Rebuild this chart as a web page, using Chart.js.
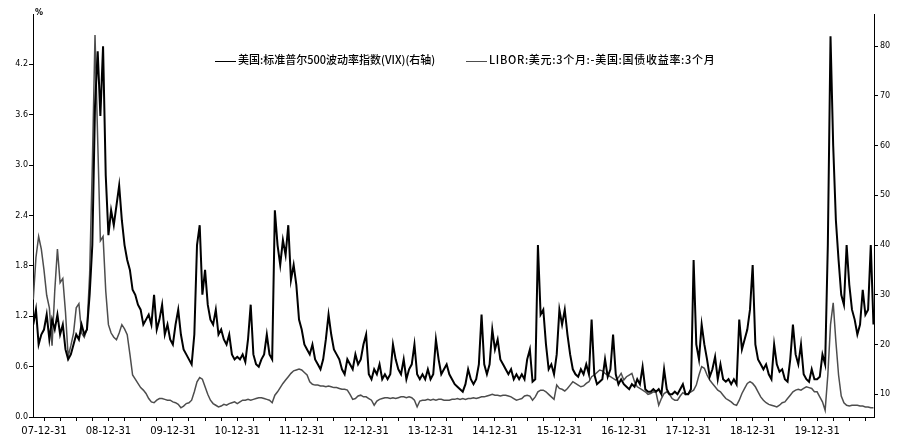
<!DOCTYPE html>
<html lang="zh-CN">
<head>
<meta charset="UTF-8" />
<title>VIX 与 LIBOR-国债利差</title>
<script src="https://cdn.jsdelivr.net/npm/chart.js"></script>
<style>
  body { margin: 0; background: #fff; }
  #wrap { position: relative; width: 900px; height: 445px; }
  .legend { position: absolute; top: 51px; font: 500 11px "Noto Sans CJK SC", sans-serif; color: #000; white-space: nowrap; line-height: 16px; }
  .legend i { display: inline-block; width: 21px; height: 0; border-top: 1.5px solid #000; vertical-align: middle; margin-right: 2px; }
  #pct { position: absolute; left: 35px; top: 8px; font: bold 8px "DejaVu Sans", sans-serif; color: #000; }
</style>
</head>
<body>
<div id="wrap">
  <canvas id="grafico" width="900" height="445"></canvas>
  <div id="pct">%</div>
  <div class="legend" style="left:215px"><i></i>美国:标准普尔500波动率指数(VIX)(右轴)</div>
  <div class="legend" style="left:466px; letter-spacing:0.7px"><i style="border-color:#4d4d4d"></i>LIBOR:美元:3个月:-美国:国债收益率:3个月</div>
</div>

<script>
  // eixo x: meses contados a partir de 2007-12-31, um ponto a cada meio mes
  const firstMonth = -2;   // 2007-10-31
  const stepMonth = 0.5;

  const xLabels = ['07-12-31', '08-12-31', '09-12-31', '10-12-31', '11-12-31', '12-12-31', '13-12-31',
                   '14-12-31', '15-12-31', '16-12-31', '17-12-31', '18-12-31', '19-12-31'];
  const leftTicks = [0, 0.6, 1.2, 1.8, 2.4, 3.0, 3.6, 4.2];
  const rightTicks = [10, 20, 30, 40, 50, 60, 70, 80];

  const legendVix = '美国:标准普尔500波动率指数(VIX)(右轴)';
  const legendTed = 'LIBOR:美元:3个月:-美国:国债收益率:3个月';

  // VIX (eixo direito)
  const vix = [
    24, 27, 20, 22,
    23, 26, 21, 25, 23, 26, 22, 24, 19, 17, 18, 20, 22, 21, 24, 22, 23, 30, 40, 68, 79, 66, 80, 54,
    42, 47, 44, 48, 52, 45, 40, 37, 35, 31, 30, 28, 27, 24, 25, 26, 24, 30, 23, 25, 28, 22, 24, 21,
    20, 24, 27, 22, 19, 18, 17, 16, 22, 40, 44, 30, 35, 28, 25, 24, 27, 22, 23, 21, 20, 22, 18, 17,
    17.5, 17, 18, 16.5, 21, 28, 18, 16, 15.5, 17, 18, 22, 18, 17, 47, 40, 36, 41, 38, 44, 33, 36, 32, 25,
    23, 20, 19, 18, 20, 17, 16, 15, 17, 21, 26, 22, 19, 18, 17, 15, 14, 17, 16, 15, 18, 16, 17, 20,
    22, 14, 13, 15, 14, 16, 13, 14, 13, 14, 20, 17, 15, 14, 17, 13, 15, 16, 20, 14, 13, 14, 13, 15,
    13, 14, 21, 17, 14, 15, 16, 14, 13, 12, 11.5, 11, 10.5, 12, 15, 13, 12, 13, 16, 26, 16, 14, 16, 23,
    19, 21, 17, 16, 15, 14, 15, 13, 14, 13, 14, 13, 17, 19, 12.5, 13, 40, 26, 27, 20, 15, 16, 14, 18,
    27, 24, 27, 22, 18, 15, 14, 13.5, 15, 14, 16, 14, 25, 14, 12, 12.5, 13, 17, 13.5, 15, 22, 14, 12, 13,
    12, 11.5, 11, 12, 11.5, 13, 12, 15.5, 11, 10.5, 10.5, 11, 10.5, 11, 10, 15, 11, 10, 10, 10.5, 10, 11, 12, 10,
    10, 11, 37, 20, 17, 24, 20, 17, 13.5, 15, 17.5, 13, 16, 13, 12.5, 13, 12, 13, 12, 25, 19, 21, 23, 27,
    36, 20, 17, 16, 15, 16, 14, 13, 20, 16, 14.5, 15, 13, 12.5, 17, 24, 18, 16, 20, 14, 13, 12.5, 15, 13,
    13, 13.5, 18, 16, 40, 82, 60, 45, 37, 30, 28, 40, 32, 27, 25, 22, 24, 31, 26, 27, 40, 24
  ];

  // LIBOR 3M - T-bill 3M (eixo esquerdo, %)
  const ted = [
    1.4, 1.9, 2.15, 2.0,
    1.75, 1.45, 1.3, 0.85, 1.5, 2.0, 1.6, 1.65, 1.25, 0.72, 0.85, 1.0, 1.3, 1.35, 1.0, 0.95, 1.05, 1.7, 3.0, 4.55, 3.3, 2.1, 2.15, 1.5,
    1.1, 1.0, 0.95, 0.92, 1.0, 1.1, 1.05, 0.98, 0.75, 0.5, 0.45, 0.4, 0.35, 0.32, 0.28, 0.22, 0.18, 0.17, 0.2, 0.22, 0.22, 0.21, 0.2, 0.2,
    0.18, 0.17, 0.15, 0.11, 0.13, 0.16, 0.17, 0.2, 0.3, 0.42, 0.47, 0.45, 0.36, 0.27, 0.2, 0.16, 0.14, 0.12, 0.13, 0.15, 0.14, 0.16, 0.17, 0.18,
    0.16, 0.18, 0.2, 0.2, 0.21, 0.2, 0.21, 0.22, 0.23, 0.23, 0.22, 0.21, 0.2, 0.17, 0.26, 0.3, 0.35, 0.4, 0.44, 0.48, 0.52, 0.55, 0.56, 0.57,
    0.56, 0.53, 0.5, 0.42, 0.39, 0.38, 0.38, 0.37, 0.37, 0.36, 0.37, 0.36, 0.35, 0.35, 0.34, 0.33, 0.33, 0.32, 0.27, 0.21, 0.22, 0.25, 0.26, 0.24,
    0.24, 0.22, 0.2, 0.14, 0.19, 0.21, 0.22, 0.23, 0.23, 0.22, 0.23, 0.22, 0.23, 0.24, 0.24, 0.23, 0.24, 0.23, 0.2, 0.12, 0.19, 0.2, 0.2, 0.21,
    0.2, 0.21, 0.2, 0.21, 0.21, 0.2, 0.2, 0.2, 0.21, 0.21, 0.22, 0.21, 0.22, 0.21, 0.22, 0.22, 0.23, 0.22, 0.23, 0.24, 0.24, 0.25, 0.26, 0.27,
    0.26, 0.26, 0.25, 0.26, 0.26, 0.25, 0.24, 0.22, 0.2, 0.21, 0.22, 0.25, 0.26, 0.25, 0.2, 0.24, 0.3, 0.32, 0.32, 0.3, 0.27, 0.24, 0.21, 0.38,
    0.34, 0.33, 0.31, 0.34, 0.38, 0.42, 0.4, 0.38, 0.36, 0.37, 0.4, 0.42, 0.48, 0.5, 0.53, 0.56, 0.55, 0.52, 0.5, 0.48, 0.46, 0.44, 0.47, 0.52,
    0.44, 0.48, 0.5, 0.52, 0.42, 0.36, 0.34, 0.32, 0.3, 0.27, 0.28, 0.3, 0.29, 0.14, 0.22, 0.28, 0.3, 0.27, 0.22, 0.2, 0.2, 0.25, 0.29, 0.27,
    0.28, 0.3, 0.32, 0.38, 0.5, 0.6, 0.58, 0.5, 0.44, 0.4, 0.36, 0.32, 0.3, 0.26, 0.22, 0.2, 0.18, 0.15, 0.14, 0.2, 0.28, 0.34, 0.4, 0.42,
    0.4, 0.36, 0.3, 0.24, 0.2, 0.17, 0.15, 0.14, 0.13, 0.12, 0.14, 0.17, 0.18, 0.22, 0.26, 0.3, 0.32, 0.33, 0.32, 0.34, 0.36, 0.35, 0.34, 0.3,
    0.3, 0.24, 0.18, 0.08, 0.5, 1.1, 1.36, 0.9, 0.5, 0.25, 0.17, 0.14, 0.13, 0.14, 0.14, 0.14, 0.13, 0.13, 0.12, 0.12, 0.11, 0.11
  ];

  function pontos(valores) {
    return valores.map((v, i) => ({ x: firstMonth + i * stepMonth, y: v }));
  }

  const fonteEixo = { family: 'DejaVu Sans', size: 8 };

  const config = {
    type: 'line',
    data: {
      datasets: [
        {
          label: legendVix,
          data: pontos(vix),
          yAxisID: 'yR',
          borderColor: '#000000',
          borderWidth: 2,
          pointRadius: 0,
          tension: 0,
        },
        {
          label: legendTed,
          data: pontos(ted),
          yAxisID: 'yL',
          borderColor: '#4d4d4d',
          borderWidth: 1.5,
          pointRadius: 0,
          tension: 0,
        },
      ],
    },
    options: {
      responsive: false,
      animation: false,
      devicePixelRatio: 1,
      layout: { padding: { top: 14, left: 0, right: 0, bottom: 0 } },
      plugins: { legend: { display: false }, tooltip: { enabled: false } },
      scales: {
        x: {
          type: 'linear',
          min: -2.05,
          max: 154.6,
          grid: { drawOnChartArea: false, tickLength: 4, color: '#000' },
          border: { display: true, color: '#000', width: 1 },
          afterBuildTicks: (s) => {
            const t = [];
            for (let m = 0; m <= 153; m += 3) t.push({ value: m });
            s.ticks = t;
          },
          afterFit: (s) => { s.height = 28; },
          ticks: {
            autoSkip: false,
            maxRotation: 0,
            padding: 4,
            color: '#000',
            font: { family: 'DejaVu Sans', size: 10 },
            callback: (v) => (v % 12 === 0 ? xLabels[v / 12] : ''),
          },
        },
        yL: {
          type: 'linear',
          position: 'left',
          min: 0,
          max: 4.8,
          grid: { drawOnChartArea: false, tickLength: 4, color: '#000' },
          border: { display: true, color: '#000', width: 1 },
          afterBuildTicks: (s) => { s.ticks = leftTicks.map((v) => ({ value: v })); },
          afterFit: (s) => { s.width = 33; },
          ticks: { padding: 1, color: '#000', font: fonteEixo, callback: (v) => v.toFixed(1) },
        },
        yR: {
          type: 'linear',
          position: 'right',
          min: 5.4,
          max: 86.5,
          grid: { drawOnChartArea: false, tickLength: 4, color: '#000' },
          border: { display: true, color: '#000', width: 1 },
          afterBuildTicks: (s) => { s.ticks = rightTicks.map((v) => ({ value: v })); },
          afterFit: (s) => { s.width = 26; },
          ticks: { padding: 2, color: '#000', font: fonteEixo, callback: (v) => String(v) },
        },
      },
    },
  };

  const grafico = new Chart(document.getElementById('grafico'), config);
</script>
</body>
</html>
